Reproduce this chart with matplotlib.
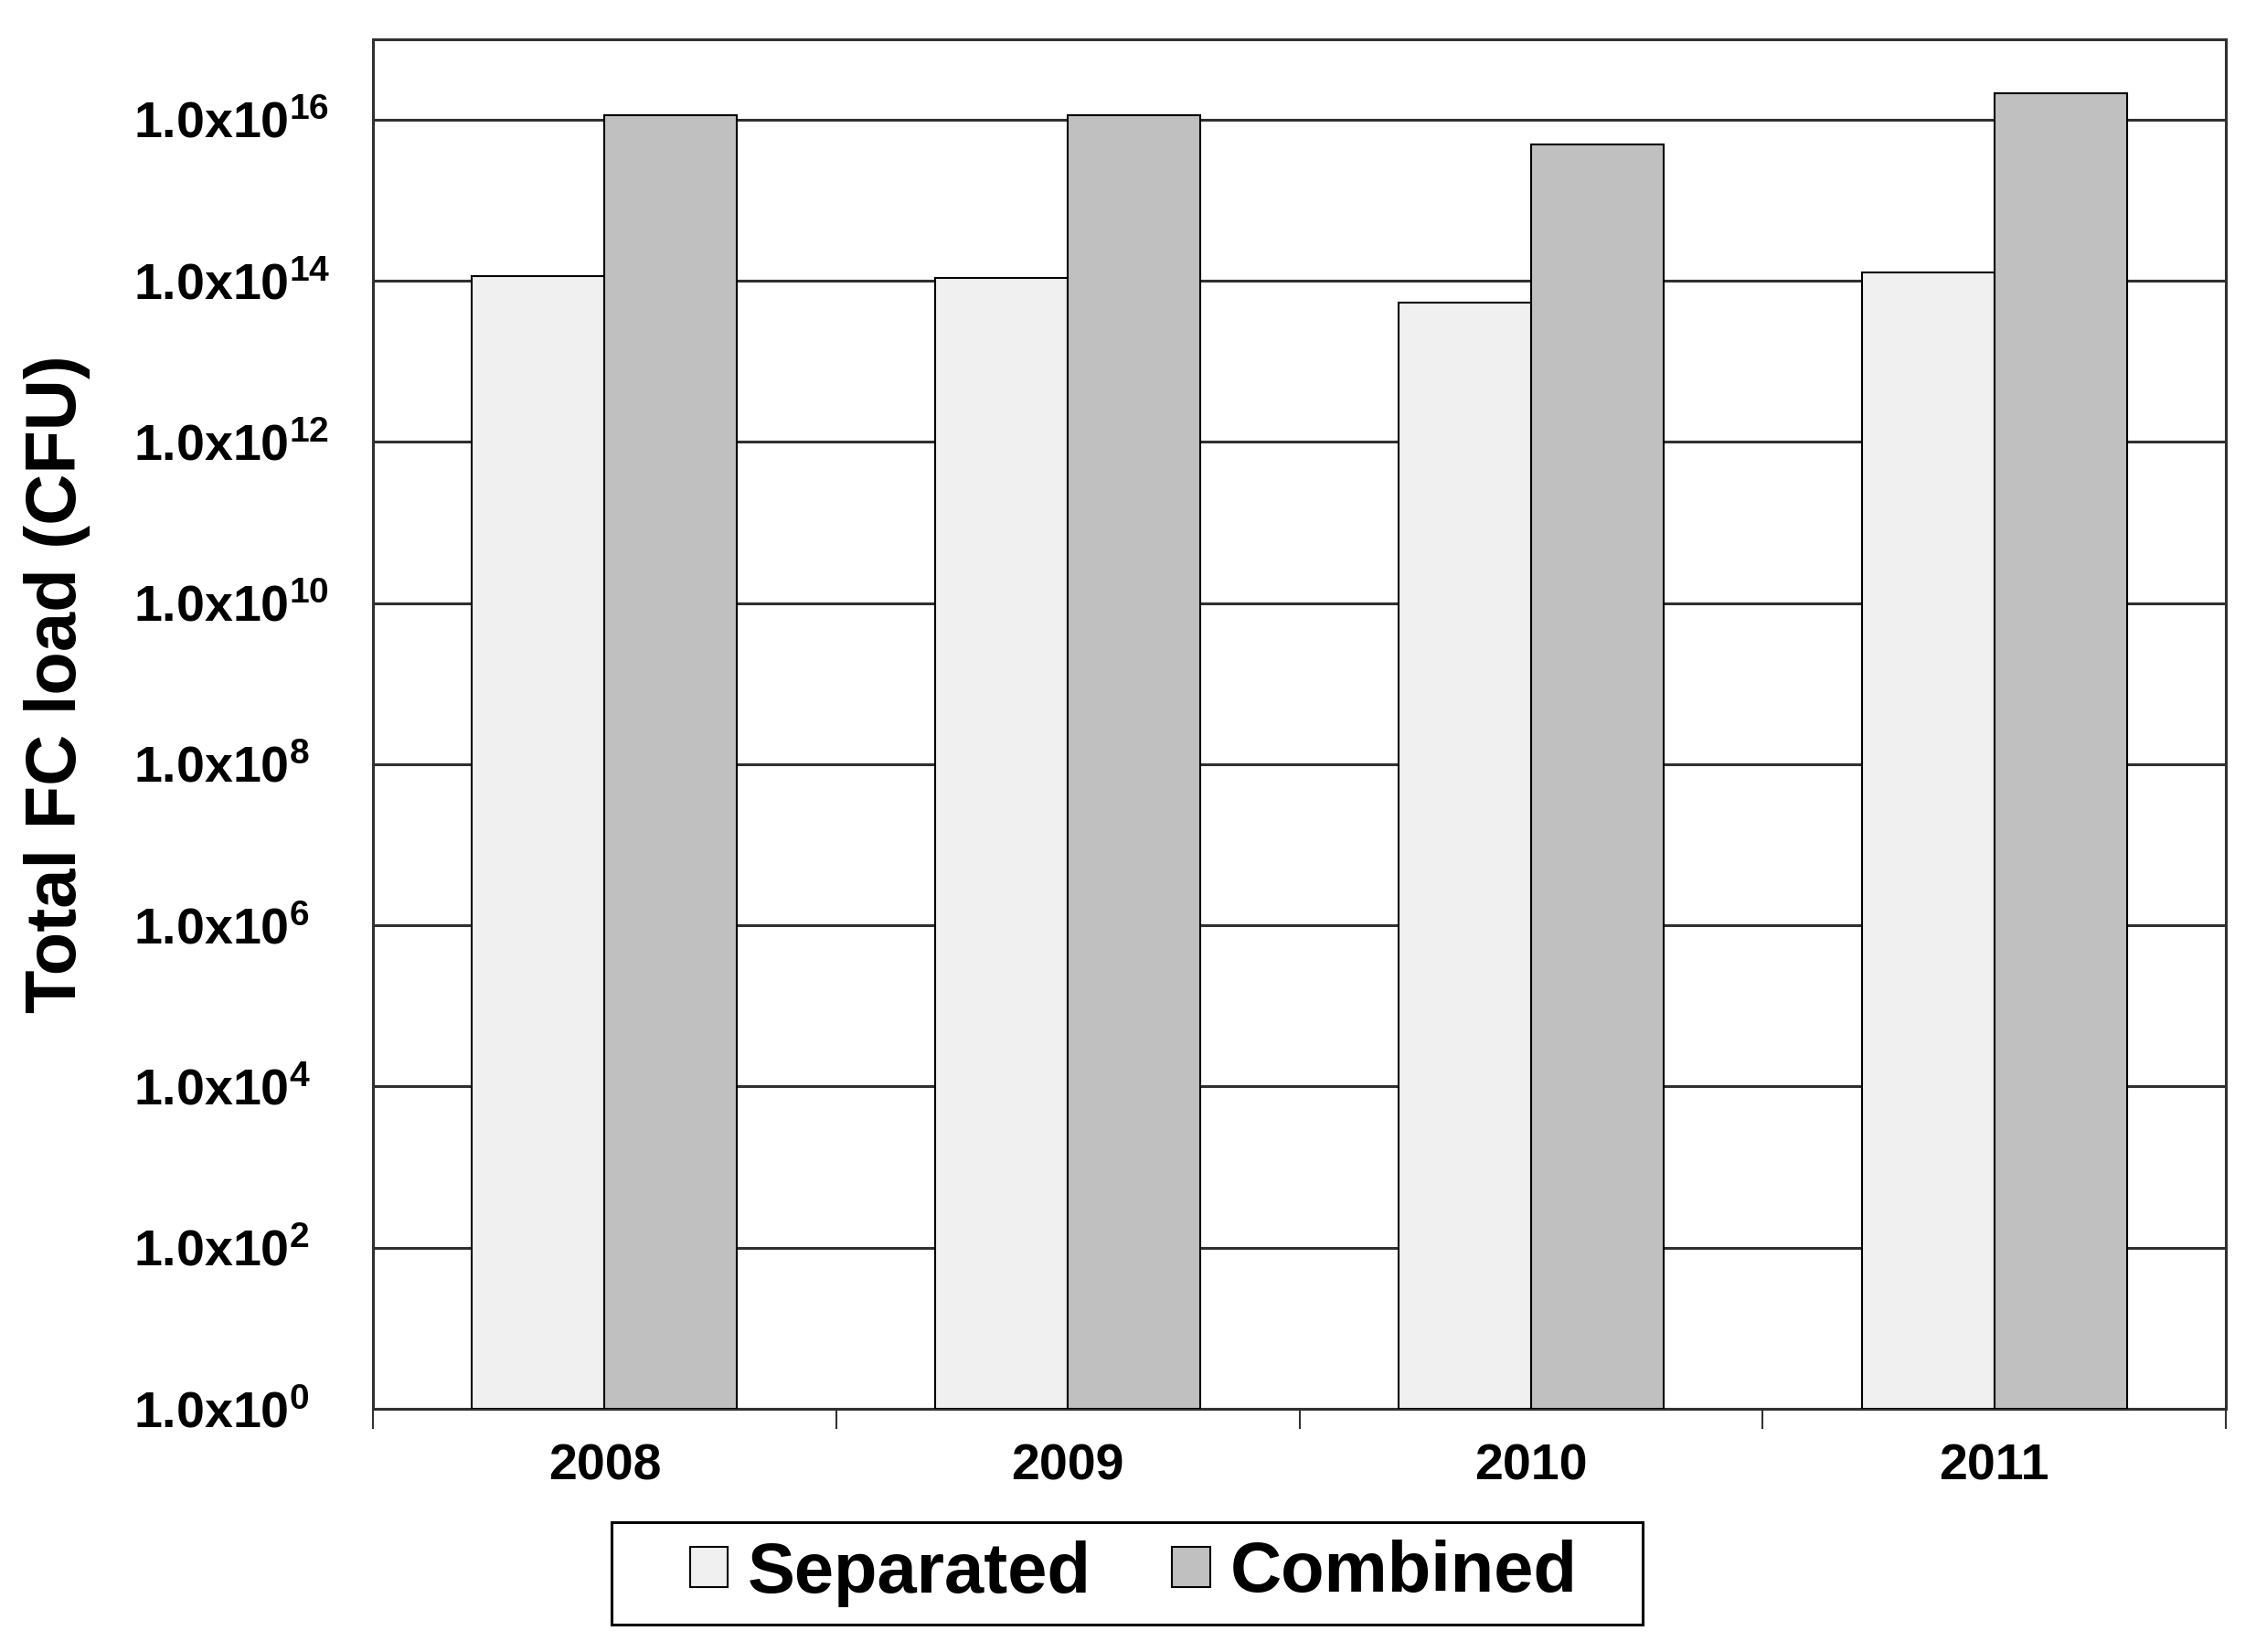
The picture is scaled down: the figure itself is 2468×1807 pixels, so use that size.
import matplotlib
matplotlib.use("Agg")
import matplotlib.pyplot as plt
import numpy as np
from matplotlib.patches import Patch, Rectangle

plt.rcParams['font.family'] = ['Liberation Sans', 'DejaVu Sans']
plt.rcParams['font.weight'] = 'bold'
plt.rcParams['mathtext.fontset'] = 'custom'
plt.rcParams['mathtext.rm'] = 'Liberation Sans:bold'
plt.rcParams['mathtext.it'] = 'Liberation Sans:bold'
plt.rcParams['mathtext.bf'] = 'Liberation Sans:bold'
plt.rcParams['mathtext.default'] = 'rm'

# Data
years = ['2008', '2009', '2010', '2011']
separated = [1.15e14, 1.08e14, 5.4e13, 1.26e14]
combined = [1.12e16, 1.12e16, 4.9e15, 2.1e16]
series_names = ['Separated', 'Combined']
exponents = [0, 2, 4, 6, 8, 10, 12, 14, 16]
ytick_labels = [r'$1.0x10^{%d}$' % e for e in exponents]

W, H = 2468, 1807
fig = plt.figure(figsize=(W / 100, H / 100), dpi=100)
ax = fig.add_axes([408 / W, 1 - 1541 / H, (2435 - 408) / W, (1541 - 42.5) / H])

x = np.arange(len(years))
bw = 0.286
c_sep = '#f0f0f0'
c_com = '#c0c0c0'
ax.set_yscale('log')
ax.bar(x - bw / 2, separated, width=bw, bottom=1, color=c_sep, edgecolor='black', linewidth=1.5, zorder=3)
ax.bar(x + bw / 2, combined, width=bw, bottom=1, color=c_com, edgecolor='black', linewidth=1.5, zorder=3)

ax.set_ylim(1, 1e17)
ax.set_xlim(-0.5, 3.5)

ax.set_yticks([10.0 ** e for e in exponents])
ax.set_yticklabels(ytick_labels)
ax.yaxis.set_minor_locator(matplotlib.ticker.NullLocator())
ax.tick_params(axis='y', which='major', length=0, pad=189, labelsize=40)
for lab in ax.get_yticklabels():
    lab.set_horizontalalignment('left')

ax.set_xticks(x)
ax.set_xticklabels(years)
ax.set_xticks(np.arange(-0.5, 4, 1.0), minor=True)
ax.tick_params(axis='x', which='major', length=0, pad=27, labelsize=40)
ax.tick_params(axis='x', which='minor', length=16, width=1.5, direction='out', color='#333333')

ax.yaxis.grid(True, color='#303030', linewidth=2.2, zorder=1)
ax.set_axisbelow(True)
for s in ax.spines.values():
    s.set_linewidth(2.2)
    s.set_color('#303030')

fig.text(63 / W, 1 - 748 / H, 'Total FC load (CFU)', rotation=90, ha='center', va='center',
         fontsize=56, fontweight='bold')

# Legend
fig.patches.append(Rectangle((669 / W, 1 - 1777 / H), (1797 - 669) / W, (1777 - 1665) / H,
                             transform=fig.transFigure, facecolor='white', edgecolor='black',
                             linewidth=2.2, zorder=0))
handles = [Patch(facecolor=c_sep, edgecolor='black', linewidth=1.5),
           Patch(facecolor=c_com, edgecolor='black', linewidth=1.5)]
fig.legend(handles, series_names, loc='center', bbox_to_anchor=(1240 / W, 1 - 1721 / H), ncol=2,
           frameon=False, fontsize=56, handlelength=0.53, handleheight=0.5,
           handletextpad=0.28, columnspacing=1.14, borderpad=0.1,
           prop={'weight': 'bold', 'size': 56})

fig.savefig('out.png', dpi=100, facecolor='white')
